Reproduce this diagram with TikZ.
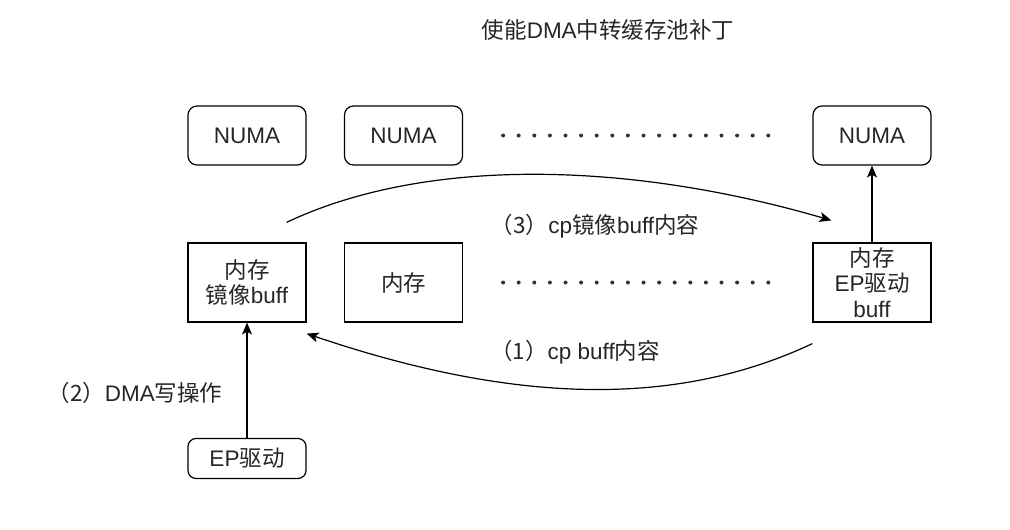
\documentclass[tikz,border=0pt]{standalone}
\usepackage{fontspec}
\setmainfont{Liberation Sans}
\newfontfamily\cjk{Noto Sans CJK SC}
\usetikzlibrary{arrows.meta}

\tikzset{
  txt/.style={font=\fontsize{22.5pt}{25.5pt}\selectfont, text=black!85, inner sep=0pt, align=center},
  numabox/.style={txt, draw, line width=1.2pt, rounded corners=9pt, minimum width=118pt, minimum height=59pt},
  membox/.style={txt, draw, line width=1.2pt, minimum width=118pt, minimum height=79pt},
  drvbox/.style={txt, draw, line width=1.2pt, rounded corners=8pt, minimum width=118pt, minimum height=40pt},
  arr/.style={line width=1.2pt, -{Stealth[length=12pt,width=10pt,inset=3pt]}},
  dotrow/.style={line width=4pt, line cap=round, dash pattern=on 0pt off 15.6pt, black!80}
}

\begin{document}
\begin{tikzpicture}[x=1pt,y=-1pt]

    \useasboundingbox (0,0) rectangle (1010,530);

    \node[txt] (title) at (608,30) {{\cjk 使能}DMA{\cjk 中转缓存池补丁}};

    \node[numabox] (numaA) at (247,135.5) {NUMA};
    \node[numabox] (numaB) at (403.5,135.5) {NUMA};
    \node[numabox] (numaC) at (872,135.5) {NUMA};

    \node[membox] (mirror) at (247,282.5) {{\cjk 内存}\\{\cjk 镜像}buff};
    \node[membox] (mem) at (403.5,282.5) {{\cjk 内存}};
    \node[membox] (epbuf) at (872,282.5) {{\cjk 内存}\\EP{\cjk 驱动}\\buff};

    \node[drvbox] (epdrv) at (247,458.5) {EP{\cjk 驱动}};

    \draw[dotrow] ([xshift=40pt]numaB.east) -- ([xshift=-40pt]numaC.west);
    \draw[dotrow] ([xshift=40pt]mem.east) -- ([xshift=-40pt]epbuf.west);

    % copy paths between the boxes
    \coordinate (cpS) at ([xshift=-20pt,yshift=20pt]mirror.north east);
    \coordinate (cpE) at ([xshift=19pt,yshift=22pt]epbuf.north west);
    \coordinate (bkS) at ([yshift=-21pt]epbuf.south west);
    \coordinate (bkE) at ([yshift=-11pt]mirror.south east);

    \draw[arr] (cpS) .. controls (420,159) and (620,159) .. (cpE);
    \draw[arr] (bkS) .. controls (680,406) and (520,406) .. (bkE);
    \draw[arr] (epdrv.north) -- (mirror.south);
    \draw[arr] (epbuf.north) -- (numaC.south);

    \node[txt] (lbl3) at (595,226) {{\cjk （3）}cp{\cjk 镜像}buff{\cjk 内容}};
    \node[txt] (lbl1) at (575,352) {{\cjk （1）}cp buff{\cjk 内容}};
    \node[txt] (lbl2) at (135,393) {{\cjk （2）}DMA{\cjk 写操作}};

  \end{tikzpicture}
\end{document}
